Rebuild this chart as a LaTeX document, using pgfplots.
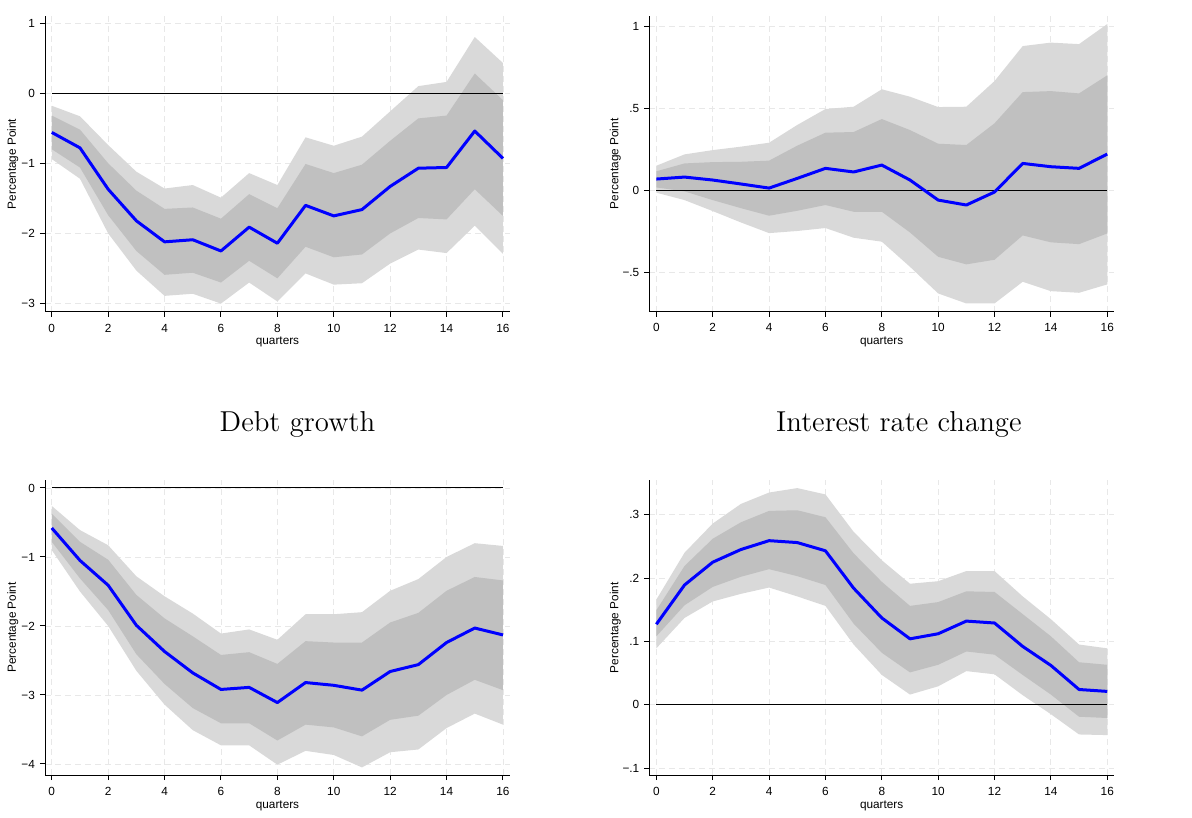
\documentclass[border=0pt]{standalone}
\usepackage{pgfplots}
\pgfplotsset{compat=1.18}
\usepackage{pgfplotstable}
\usepgfplotslibrary{fillbetween}
\usepackage{fontspec}
\newfontfamily\arial{Liberation Sans}
\definecolor{bandA}{RGB}{217,217,217}
\definecolor{bandB}{RGB}{192,192,192}
\definecolor{gridgray}{RGB}{232,232,232}
\definecolor{irfblue}{RGB}{0,0,255}

\pgfplotstableread{
t lo90 lo68 m hi68 hi90
0 -0.94 -0.80 -0.56 -0.32 -0.18
1 -1.22 -1.06 -0.78 -0.52 -0.33
2 -2.00 -1.74 -1.37 -1.00 -0.74
3 -2.53 -2.25 -1.82 -1.39 -1.12
4 -2.89 -2.59 -2.12 -1.65 -1.36
5 -2.86 -2.56 -2.09 -1.63 -1.31
6 -3.00 -2.70 -2.25 -1.79 -1.49
7 -2.70 -2.39 -1.91 -1.44 -1.14
8 -2.97 -2.64 -2.14 -1.64 -1.31
9 -2.57 -2.19 -1.60 -1.01 -0.63
10 -2.73 -2.34 -1.75 -1.14 -0.75
11 -2.71 -2.30 -1.66 -1.02 -0.62
12 -2.43 -2.00 -1.33 -0.68 -0.26
13 -2.23 -1.78 -1.07 -0.36 0.10
14 -2.28 -1.80 -1.06 -0.32 0.16
15 -1.89 -1.37 -0.54 0.28 0.80
16 -2.29 -1.75 -0.93 -0.10 0.43
}\tA

\pgfplotstableread{
t lo90 lo68 m hi68 hi90
0 -0.014 0.018 0.069 0.116 0.150
1 -0.059 -0.006 0.081 0.164 0.219
2 -0.126 -0.059 0.063 0.172 0.245
3 -0.195 -0.108 0.039 0.174 0.266
4 -0.260 -0.154 0.014 0.181 0.290
5 -0.247 -0.124 0.073 0.272 0.398
6 -0.229 -0.089 0.134 0.351 0.495
7 -0.288 -0.130 0.112 0.355 0.509
8 -0.312 -0.130 0.154 0.434 0.615
9 -0.465 -0.256 0.063 0.367 0.570
10 -0.627 -0.404 -0.059 0.284 0.507
11 -0.688 -0.450 -0.089 0.276 0.509
12 -0.688 -0.422 -0.010 0.408 0.665
13 -0.556 -0.274 0.164 0.598 0.878
14 -0.613 -0.316 0.144 0.604 0.899
15 -0.623 -0.327 0.134 0.590 0.890
16 -0.572 -0.262 0.221 0.700 1.012
}\tB

\pgfplotstableread{
t lo90 lo68 m hi68 hi90
0 -0.90 -0.78 -0.58 -0.37 -0.26
1 -1.50 -1.31 -1.05 -0.78 -0.61
2 -2.00 -1.77 -1.41 -1.04 -0.83
3 -2.65 -2.41 -1.99 -1.55 -1.28
4 -3.14 -2.84 -2.37 -1.89 -1.57
5 -3.51 -3.19 -2.68 -2.15 -1.82
6 -3.73 -3.41 -2.92 -2.42 -2.11
7 -3.73 -3.41 -2.89 -2.38 -2.05
8 -4.01 -3.66 -3.11 -2.55 -2.20
9 -3.81 -3.43 -2.82 -2.22 -1.83
10 -3.87 -3.47 -2.86 -2.24 -1.83
11 -4.05 -3.60 -2.93 -2.24 -1.80
12 -3.83 -3.36 -2.66 -1.95 -1.49
13 -3.79 -3.30 -2.56 -1.81 -1.32
14 -3.48 -3.00 -2.24 -1.49 -1.00
15 -3.27 -2.78 -2.03 -1.29 -0.80
16 -3.43 -2.93 -2.13 -1.34 -0.84
}\tC

\pgfplotstableread{
t lo90 lo68 m hi68 hi90
0 0.089 0.108 0.127 0.149 0.166
1 0.137 0.157 0.189 0.219 0.240
2 0.163 0.186 0.225 0.262 0.286
3 0.175 0.202 0.245 0.288 0.317
4 0.185 0.214 0.259 0.306 0.335
5 0.171 0.203 0.256 0.307 0.342
6 0.156 0.189 0.243 0.296 0.332
7 0.095 0.128 0.184 0.239 0.273
8 0.047 0.082 0.137 0.194 0.228
9 0.016 0.051 0.104 0.156 0.191
10 0.029 0.063 0.112 0.162 0.195
11 0.053 0.084 0.132 0.179 0.211
12 0.048 0.079 0.129 0.178 0.211
13 0.015 0.047 0.092 0.143 0.171
14 -0.015 0.016 0.062 0.108 0.135
15 -0.047 -0.019 0.024 0.067 0.095
16 -0.048 -0.021 0.021 0.063 0.089
}\tD

\newcommand{\irf}[2]{%
  \addplot[name path=#2u9, draw=none, forget plot] table[x=t,y=hi90]{#1};
  \addplot[name path=#2l9, draw=none, forget plot] table[x=t,y=lo90]{#1};
  \addplot[name path=#2u6, draw=none, forget plot] table[x=t,y=hi68]{#1};
  \addplot[name path=#2l6, draw=none, forget plot] table[x=t,y=lo68]{#1};
  \addplot[fill=bandA, draw=none, forget plot] fill between[of=#2u9 and #2l9];
  \addplot[fill=bandB, draw=none, forget plot] fill between[of=#2u6 and #2l6];
  \addplot[black, line width=0.5pt, forget plot] coordinates {(0,0) (16,0)};
  \addplot[irfblue, line width=1.5pt, line join=round, forget plot] table[x=t,y=m]{#1};
}

\pgfplotsset{
  irfstyle/.style={
    scale only axis,
    anchor=south west,
    axis lines=left,
    axis line style={-, line width=0.5pt, black},
    tick align=outside,
    major tick length=2.5pt,
    tick style={black, line width=0.5pt},
    xtick={0,2,...,16},
    xmin=-0.24, xmax=16.25,
    grid=major,
    grid style={dash pattern=on 3pt off 2pt, color=gridgray, line width=0.4pt},
    tick label style={font=\arial\fontsize{5.9}{7}\selectfont},
    yticklabel style={xshift=1pt},
    label style={font=\arial\fontsize{5.9}{7}\selectfont},
    /pgf/number format/assume math mode=true,
    xlabel={quarters},
    ylabel={Percentage Point},
  }
}

\begin{document}
\begin{tikzpicture}
\path (0,0) rectangle (596pt,407.5pt);

% top left
\begin{axis}[irfstyle,
  at={(22.5pt,251.5pt)}, width=232.5pt, height=148pt,
  ymin=-3.12, ymax=1.10,
  ytick={-3,-2,-1,0,1}, yticklabels={−3,−2,−1,0,1},
  xlabel style={at={(axis description cs:0.5,-0.102)}, anchor=center},
  ylabel style={at={(axis description cs:-0.069,0.5)}, anchor=center},
]
\irf{\tA}{a}
\end{axis}

% top right
\begin{axis}[irfstyle,
  at={(324.65pt,251.65pt)}, width=232.35pt, height=147.85pt,
  xmin=-0.25, xmax=16.24,
  ymin=-0.738, ymax=1.061,
  ytick={-0.5,0,0.5,1}, yticklabels={−.5,0,.5,1},
  xlabel style={at={(axis description cs:0.5,-0.102)}, anchor=center},
  ylabel style={at={(axis description cs:-0.073,0.5)}, anchor=center},
]
\irf{\tB}{b}
\end{axis}

% bottom left
\begin{axis}[irfstyle,
  at={(22.5pt,20pt)}, width=232.5pt, height=147.5pt,
  ymin=-4.16, ymax=0.116,
  ytick={-4,-3,-2,-1,0}, yticklabels={−4,−3,−2,−1,0},
  xlabel style={at={(axis description cs:0.5,-0.105)}, anchor=center},
  ylabel style={at={(axis description cs:-0.069,0.5)}, anchor=center},
  title={Debt growth},
  title style={font=\fontsize{14.4}{17}\selectfont, at={(axis description cs:0.543,1.125)}, anchor=base},
]
\irf{\tC}{c}
\end{axis}

% bottom right
\begin{axis}[irfstyle,
  at={(324.65pt,20pt)}, width=232.35pt, height=147.25pt,
  xmin=-0.25, xmax=16.24,
  ymin=-0.111, ymax=0.354,
  ytick={-0.1,0,0.1,0.2,0.3}, yticklabels={−.1,0,.1,.2,.3},
  xlabel style={at={(axis description cs:0.5,-0.105)}, anchor=center},
  ylabel style={at={(axis description cs:-0.073,0.5)}, anchor=center},
  title={Interest rate change},
  title style={font=\fontsize{14.4}{17}\selectfont, at={(axis description cs:0.537,1.127)}, anchor=base},
]
\irf{\tD}{d}
\end{axis}
\end{tikzpicture}
\end{document}
